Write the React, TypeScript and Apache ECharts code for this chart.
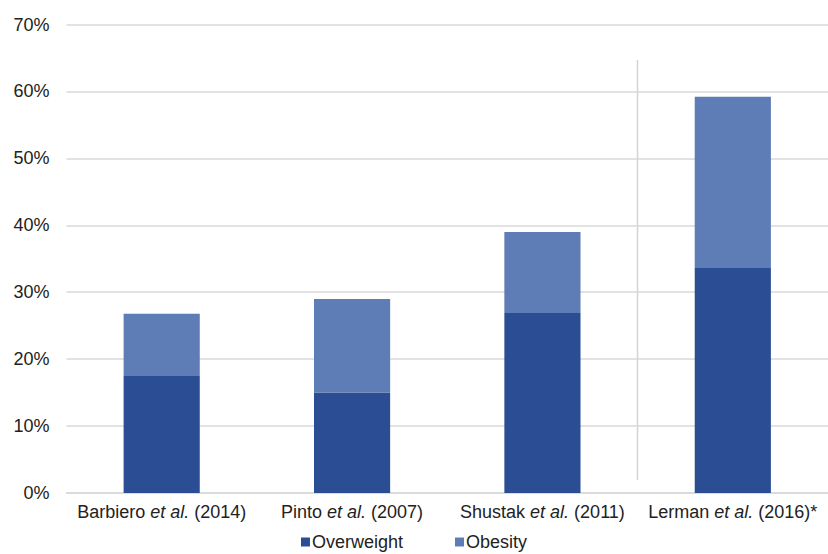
import React, { useEffect, useRef } from "react";
import * as echarts from "echarts";

const studies = ["Barbiero", "Pinto", "Shustak", "Lerman"];
const years = ["(2014)", "(2007)", "(2011)", "(2016)*"];
const overweight = [17.5, 15.0, 26.9, 33.6];
const obesity = [9.3, 14.0, 12.1, 25.6];
const seriesNames = ["Overweight", "Obesity"];

export default function App() {
  const ref = useRef<HTMLDivElement>(null);
  useEffect(() => {
    const chart = echarts.init(ref.current!, null, { renderer: "svg" });
    const categories = studies.map((s, i) => `${s} {i|et al.} ${years[i]}`);
    const font = "Liberation Sans, Arial, sans-serif";
    chart.setOption({
      animation: false,
      backgroundColor: "#ffffff",
      textStyle: { fontFamily: font },
      grid: { left: 66.5, top: 24.5, width: 768, height: 468.5, containLabel: false },
      legend: {
        top: 530,
        left: "center",
        icon: "rect",
        itemWidth: 9,
        itemHeight: 9,
        itemGap: 52,
        padding: [2, 5, 2, 5],
        textStyle: { fontSize: 18, lineHeight: 20, color: "#222", fontFamily: font, padding: [0, 0, 0, -3] },
        data: seriesNames,
      },
      xAxis: {
        type: "category",
        data: categories,
        axisLine: { lineStyle: { color: "#d9d9d9", width: 1.5 } },
        axisTick: { show: false },
        axisLabel: {
          fontSize: 18,
          color: "#222",
          margin: 10,
          interval: 0,
          rich: { i: { fontStyle: "italic", fontSize: 18, color: "#222" } },
        },
      },
      yAxis: {
        type: "value",
        min: 0,
        max: 70,
        interval: 10,
        axisLabel: { formatter: "{value}%", fontSize: 18, color: "#222", margin: 17 },
        splitLine: { lineStyle: { color: "#d9d9d9", width: 1.5 } },
        axisLine: { show: false },
        axisTick: { show: false },
      },
      series: [
        {
          name: seriesNames[0],
          type: "bar",
          stack: "total",
          data: overweight,
          barWidth: "40%",
          itemStyle: { color: "#2A4D93" },
        },
        {
          name: seriesNames[1],
          type: "bar",
          stack: "total",
          data: obesity,
          barWidth: "40%",
          itemStyle: { color: "#5E7CB5" },
        },
      ],
      graphic: [
        {
          type: "line",
          shape: { x1: 637.5, y1: 60, x2: 637.5, y2: 480 },
          style: { stroke: "#d4d4d4", lineWidth: 1.5 },
        },
      ],
    });
    return () => chart.dispose();
  }, []);
  return <div ref={ref} style={{ position: "fixed", left: 0, top: 0, width: 828, height: 554 }} />;
}
